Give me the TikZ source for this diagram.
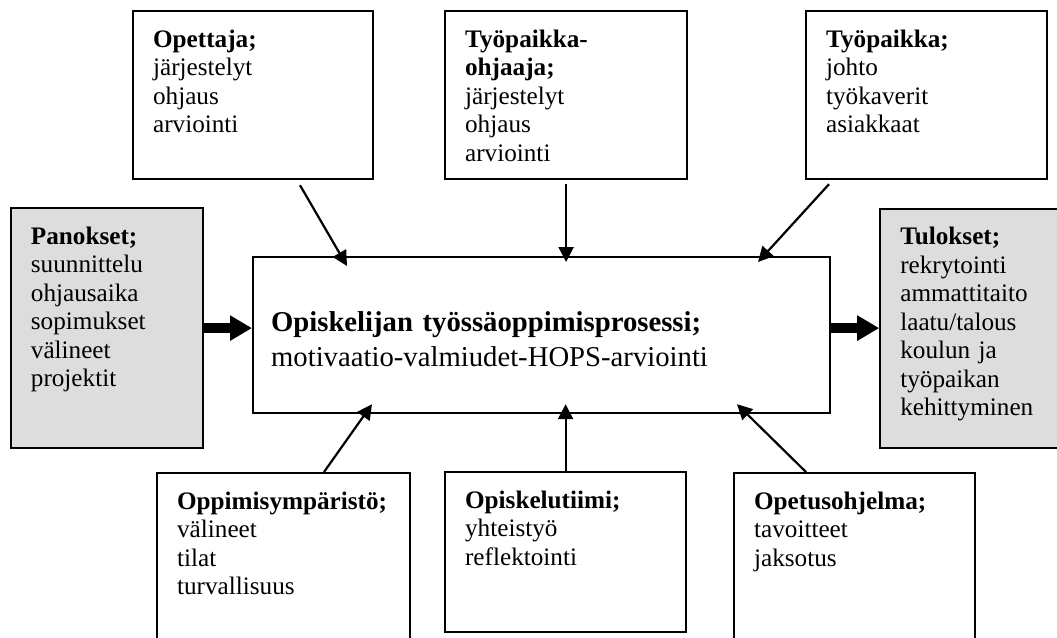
\documentclass[tikz,border=0pt]{standalone}
\usepackage{fontspec}
\setmainfont{Liberation Serif}
\usetikzlibrary{arrows.meta,positioning,calc}
\definecolor{shade}{HTML}{DDDDDD}

\begin{document}
\begin{tikzpicture}[
  x=1pt,y=-1pt,
  node distance=48pt,
  box/.style={draw=black,line width=2.2pt,anchor=north west,align=left,
              inner xsep=20pt,inner ysep=0pt,text height=36pt,
              font=\fontsize{25.2}{28.5}\selectfont},
  grey/.style={box,fill=shade},
  link/.style={-{Triangle[length=15pt,width=15pt]},line width=2.2pt},
  flow/.style={-{Triangle[length=22pt,width=24pt]},line width=10pt}
]
\clip (0,0) rectangle (1057,637);
\fill[white] (0,0) rectangle (1057,637);

\node[box,text width=541pt,text height=74pt,text depth=82pt,inner xsep=18pt,
      font=\fontsize{28.7}{35}\selectfont] (proc) at (252,256)
  {\makebox[435pt][s]{\bfseries Opiskelijan työssäoppimisprosessi;}\\
   motivaatio-valmiudet-HOPS-arviointi};

\node[box,text width=200pt,text depth=132pt] (opettaja) at (132,10)
  {\textbf{Opettaja;}\\ järjestelyt\\ ohjaus\\ arviointi};
\node[box,text width=202pt,text depth=132pt] (tyoohj) at (444,10)
  {\textbf{Työpaikka-}\\ \textbf{ohjaaja;}\\ järjestelyt\\ ohjaus\\ arviointi};
\node[box,text width=201pt,text depth=132pt] (tyopaikka) at (805,10)
  {\textbf{Työpaikka;}\\ johto\\ työkaverit\\ asiakkaat};

\node[grey,text width=152pt,text depth=204pt,left=of proc,yshift=7pt] (panokset)
  {\textbf{Panokset;}\\ suunnittelu\\ ohjausaika\\ sopimukset\\ välineet\\ projektit};
\node[grey,text width=160pt,text depth=203pt,right=of proc,yshift=7pt] (tulokset)
  {\textbf{Tulokset;}\\ rekrytointi\\ ammattitaito\\ laatu/talous\\ koulun ja\\ työpaikan\\ kehittyminen};

\node[box,text width=213pt,text depth=164pt] (oppimis) at (156,472)
  {\textbf{Oppimisympäristö;}\\ välineet\\ tilat\\ turvallisuus};
\node[box,text width=201pt,text depth=124pt] (tiimi) at (444,471)
  {\textbf{Opiskelutiimi;}\\ yhteistyö\\ reflektointi};
\node[box,text width=201pt,text depth=164pt] (opetus) at (733,472)
  {\textbf{Opetusohjelma;}\\ tavoitteet\\ jaksotus};

\draw[link] ($(opettaja.south west)+(168,5)$) -- ($(proc.north west)+(95,10)$);
\draw[link] ($(tyoohj.south)+(0,4)$) -- ($(tyoohj.south |- proc.north)+(0,6)$);
\draw[link] ($(tyopaikka.south west)+(24,4)$) -- ($(proc.north west)+(506,6)$);
\draw[link] ($(oppimis.north west)+(168,0)$) -- ($(proc.south west)+(120,-10)$);
\draw[link] (tiimi.north) -- ($(tiimi.north |- proc.south)+(0,-10)$);
\draw[link] ($(opetus.north west)+(73,0)$) -- ($(proc.south west)+(485,-10)$);
\draw[flow] (panokset) -- (panokset -| proc.west);
\draw[flow] (proc.east |- tulokset) -- (tulokset);
\end{tikzpicture}
\end{document}
